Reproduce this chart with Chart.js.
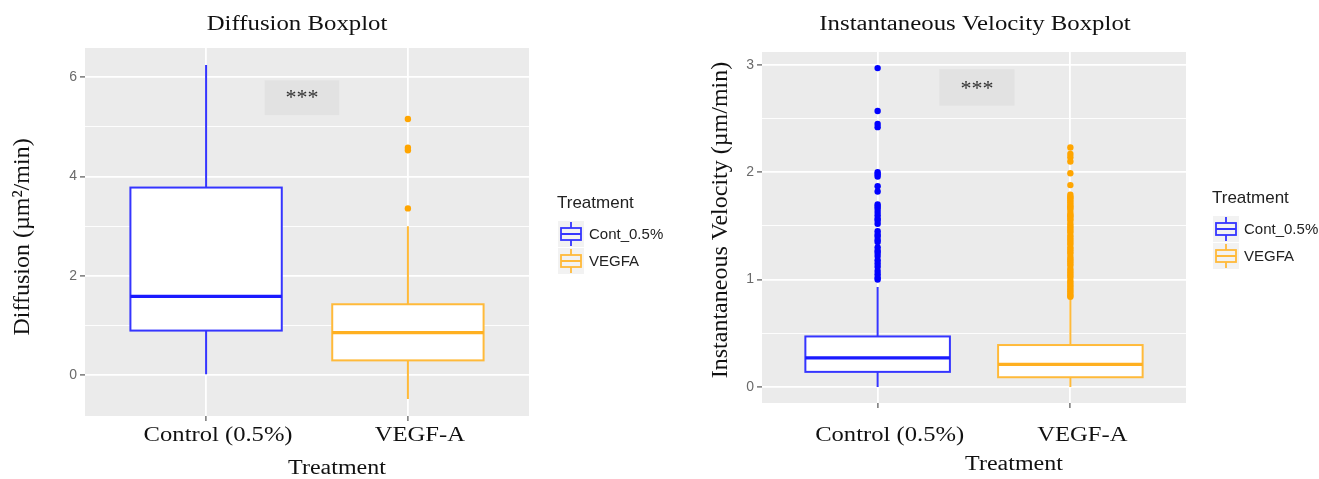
<!DOCTYPE html>
<html>
<head>
<meta charset="utf-8">
<script src="https://cdn.jsdelivr.net/npm/chart.js@4.4.1/dist/chart.umd.min.js"></script>
<style>
  html, body { margin: 0; padding: 0; background: #fff; }
  #wrap { position: relative; width: 1319px; height: 479px; overflow: hidden; }
  canvas { display: block; position: absolute; top: 0; }
  #diffusione { left: 0; }
  #velocita { left: 660px; }
</style>
</head>
<body>
<div id="wrap">
  <canvas id="diffusione" width="690" height="479"></canvas>
  <canvas id="velocita" width="659" height="479"></canvas>
</div>
<script>
// categorie e legenda
const categorie = ["Control (0.5%)", "VEGF-A"];
const etichetteLegenda = ["Cont_0.5%", "VEGFA"];

// Diffusion: statistiche del boxplot (Control, VEGF-A)
const diffMin = [0.02, -0.48];
const diffQ1 = [0.90, 0.30];
const diffMediana = [1.59, 0.86];
const diffQ3 = [3.78, 1.43];
const diffMax = [6.25, 3.00];
const diffOutlierControl = [];
const diffOutlierVegf = [3.36, 4.53, 4.58, 5.16];
const diffTicks = [0, 1, 2, 3, 4, 5, 6];

// Instantaneous Velocity
const velMin = [0.0, 0.0];
const velQ1 = [0.14, 0.09];
const velMediana = [0.27, 0.21];
const velQ3 = [0.47, 0.39];
const velMax = [0.93, 0.83];
const velOutlierControl = [2.97, 2.57, 2.45, 2.42, 2.00, 1.98, 1.96, 1.87, 1.82,
  1.70, 1.68, 1.66, 1.63, 1.60, 1.57, 1.55, 1.52, 1.45, 1.42, 1.40, 1.37, 1.35,
  1.30, 1.27, 1.25, 1.22, 1.18, 1.15, 1.12, 1.08, 1.05, 1.02, 1.00];
const velOutlierVegf = [2.23, 2.17, 2.14, 2.10, 1.99, 1.88, 1.79, 1.77, 1.76, 1.74,
  1.72, 1.70, 1.68, 1.67, 1.65, 1.62, 1.60, 1.59, 1.57, 1.55, 1.52, 1.50, 1.48,
  1.46, 1.44, 1.41, 1.39, 1.37, 1.35, 1.33, 1.30, 1.28, 1.26, 1.24, 1.21, 1.19,
  1.17, 1.15, 1.13, 1.10, 1.08, 1.06, 1.04, 1.02, 0.99, 0.97, 0.95, 0.93, 0.91,
  0.89, 0.87, 0.85, 0.84];
const velTicks = [0, 0.5, 1, 1.5, 2, 2.5, 3];

const coloriPunti = ["#0000FF", "#FFA500"];
const coloriLinee = ["#3535FF", "#FFBA3A"];
const coloriMediana = ["#1A1AFF", "#FFB020"];
const SERIF = "'Liberation Serif', 'Times New Roman', serif";
const SANS = "'Liberation Sans', Arial, sans-serif";

function testoStirato(ctx, testo, x, y, size, sx, align, colore) {
  ctx.save();
  ctx.translate(x, y);
  ctx.scale(sx, 1);
  ctx.font = size + "px " + SERIF;
  ctx.fillStyle = colore || "#111";
  ctx.textAlign = align || "center";
  ctx.textBaseline = "middle";
  ctx.fillText(testo, 0, 0);
  ctx.restore();
}

function creaPannello(id, p) {
  const pluginBox = {
    id: "box_" + id,
    beforeDraw(chart) {
      const a = chart.chartArea;
      const ctx = chart.ctx;
      ctx.save();
      ctx.fillStyle = "#EBEBEB";
      ctx.fillRect(a.left, a.top, a.right - a.left, a.bottom - a.top);
      ctx.restore();
    },
    beforeDatasetsDraw(chart) {
      const ctx = chart.ctx;
      const xs = chart.scales.x;
      const ys = chart.scales.y;
      // riquadro significativita
      const s = p.sig;
      ctx.save();
      ctx.fillStyle = "#E2E2E2";
      const sx0 = xs.getPixelForValue(s.x0), sx1 = xs.getPixelForValue(s.x1);
      const sy0 = ys.getPixelForValue(s.y1), sy1 = ys.getPixelForValue(s.y0);
      ctx.fillRect(sx0, sy0, sx1 - sx0, sy1 - sy0);
      ctx.restore();
      testoStirato(ctx, "***", (sx0 + sx1) / 2, ys.getPixelForValue(s.ty) + 2, 20, 1.1, "center", "#333");

      for (let i = 0; i < categorie.length; i++) {
        const cx = xs.getPixelForValue(i + 1);
        const half = xs.getPixelForValue(i + 1 + 0.375) - cx;
        const yMin = ys.getPixelForValue(p.min[i]);
        const yQ1 = ys.getPixelForValue(p.q1[i]);
        const yMed = ys.getPixelForValue(p.med[i]);
        const yQ3 = ys.getPixelForValue(p.q3[i]);
        const yMax = ys.getPixelForValue(p.max[i]);
        ctx.save();
        ctx.strokeStyle = coloriLinee[i];
        ctx.lineWidth = 2;
        ctx.beginPath();
        ctx.moveTo(cx, yMax); ctx.lineTo(cx, yQ3);
        ctx.moveTo(cx, yQ1); ctx.lineTo(cx, yMin);
        ctx.stroke();
        ctx.fillStyle = "#FFFFFF";
        ctx.fillRect(cx - half, yQ3, half * 2, yQ1 - yQ3);
        ctx.strokeRect(cx - half, yQ3, half * 2, yQ1 - yQ3);
        ctx.lineWidth = 3.2;
        ctx.strokeStyle = coloriMediana[i];
        ctx.beginPath();
        ctx.moveTo(cx - half, yMed); ctx.lineTo(cx + half, yMed);
        ctx.stroke();
        ctx.restore();
      }
    },
    afterDraw(chart) {
      const ctx = chart.ctx;
      const xs = chart.scales.x;
      testoStirato(ctx, p.titolo, p.titoloX, 25, 20, 1.24);
      testoStirato(ctx, "Treatment", p.xTitoloX, p.xTitoloY, 20, 1.2);
      for (let i = 0; i < categorie.length; i++) {
        testoStirato(ctx, categorie[i], xs.getPixelForValue(i + 1) + 12, 436, 20, 1.23);
      }
      // titolo asse y ruotato
      ctx.save();
      ctx.translate(p.yTitoloX, p.yTitoloY);
      ctx.rotate(-Math.PI / 2);
      ctx.font = "24px " + SERIF;
      ctx.fillStyle = "#111";
      ctx.textAlign = "center";
      ctx.textBaseline = "middle";
      ctx.fillText(p.yTitolo, 0, 0);
      ctx.restore();

      // legenda
      const L = p.legenda;
      ctx.save();
      ctx.font = "17px " + SANS;
      ctx.fillStyle = "#222";
      ctx.textAlign = "left";
      ctx.textBaseline = "middle";
      ctx.fillText("Treatment", L.x, L.titoloY);
      for (let i = 0; i < etichetteLegenda.length; i++) {
        const cy = L.righe[i];
        const kx = L.x + 1;
        ctx.fillStyle = "#F2F2F2";
        ctx.fillRect(kx, cy - 13, 26, 26);
        const c = kx + 13;
        ctx.strokeStyle = coloriLinee[i];
        ctx.lineWidth = 1.8;
        ctx.beginPath();
        ctx.moveTo(c, cy - 12); ctx.lineTo(c, cy - 6);
        ctx.moveTo(c, cy + 6); ctx.lineTo(c, cy + 12);
        ctx.moveTo(c - 10, cy); ctx.lineTo(c + 10, cy);
        ctx.stroke();
        ctx.strokeRect(c - 10, cy - 6, 20, 12);
        ctx.font = "15px " + SANS;
        ctx.fillStyle = "#222";
        ctx.fillText(etichetteLegenda[i], kx + 31, cy + 1);
      }
      ctx.restore();
    }
  };

  const datasets = p.outlier.map((arr, i) => ({
    data: arr.map(v => ({ x: i + 1, y: v })),
    backgroundColor: coloriPunti[i],
    borderColor: coloriPunti[i],
    pointRadius: 3.2,
    pointHoverRadius: 3.2,
    borderWidth: 0
  }));

  return new Chart(document.getElementById(id), {
    type: "scatter",
    data: { datasets: datasets },
    options: {
      responsive: false,
      animation: false,
      events: [],
      layout: { padding: p.padding },
      plugins: { legend: { display: false }, tooltip: { enabled: false } },
      scales: {
        x: {
          type: "linear",
          min: 0.4,
          max: 2.6,
          afterBuildTicks: (ax) => { ax.ticks = categorie.map((c, i) => ({ value: i + 1 })); },
          afterFit: (ax) => { ax.height = 10; },
          ticks: { display: false },
          border: { display: false },
          grid: { color: "#FFFFFF", lineWidth: 1.8, tickColor: "#555", tickLength: 5, tickWidth: 1.2 }
        },
        y: {
          min: p.yMin,
          max: p.yMax,
          afterBuildTicks: (ax) => { ax.ticks = p.ticks.map(v => ({ value: v })); },
          afterFit: (ax) => { ax.width = 40; },
          border: { display: false },
          ticks: {
            color: "#6A6A6A",
            font: { family: SANS, size: 14 },
            padding: 3,
            callback: (v) => (p.maggiori.includes(v) ? String(v) : "")
          },
          grid: {
            color: "#FFFFFF",
            lineWidth: (c) => (c.tick && p.maggiori.includes(c.tick.value) ? 1.8 : 0.9),
            tickColor: (c) => (c.tick && p.maggiori.includes(c.tick.value) ? "#555" : "rgba(0,0,0,0)"),
            tickLength: 5,
            tickWidth: 1.2
          }
        }
      }
    },
    plugins: [pluginBox]
  });
}

document.addEventListener("DOMContentLoaded", function () {
  creaPannello("diffusione", {
    titolo: "Diffusion Boxplot",
    titoloX: 297,
    yTitolo: "Diffusion (\u00b5m\u00b2/min)",
    yTitoloX: 23, yTitoloY: 237,
    xTitoloX: 337, xTitoloY: 469,
    min: diffMin, q1: diffQ1, med: diffMediana, q3: diffQ3, max: diffMax,
    outlier: [diffOutlierControl, diffOutlierVegf],
    yMin: -0.82, yMax: 6.59,
    ticks: diffTicks,
    maggiori: [0, 2, 4, 6],
    sig: { x0: 1.29, x1: 1.66, y0: 5.24, y1: 5.94, ty: 5.6 },
    padding: { left: 45, right: 161, top: 48, bottom: 53 },
    legenda: { x: 557, titoloY: 203, righe: [234, 261] }
  });

  creaPannello("velocita", {
    titolo: "Instantaneous Velocity Boxplot",
    titoloX: 315,
    yTitolo: "Instantaneous Velocity (\u00b5m/min)",
    yTitoloX: 61, yTitoloY: 220,
    xTitoloX: 354, xTitoloY: 465,
    min: velMin, q1: velQ1, med: velMediana, q3: velQ3, max: velMax,
    outlier: [velOutlierControl, velOutlierVegf],
    yMin: -0.15, yMax: 3.12,
    ticks: velTicks,
    maggiori: [0, 1, 2, 3],
    sig: { x0: 1.32, x1: 1.71, y0: 2.62, y1: 2.96, ty: 2.79 },
    padding: { left: 62, right: 133, top: 52, bottom: 66 },
    legenda: { x: 552, titoloY: 198, righe: [229, 256] }
  });
});
</script>
</body>
</html>
